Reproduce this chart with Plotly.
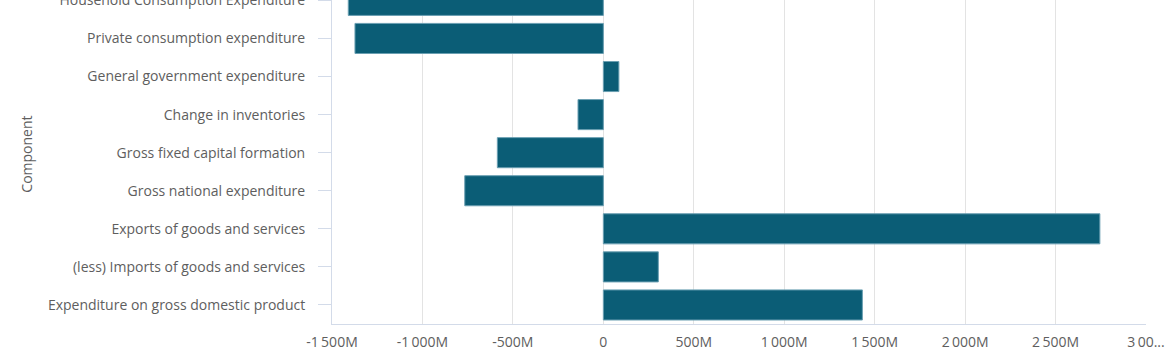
import plotly.graph_objects as go

# Expenditure components (millions), listed top to bottom
components = [
    "Household Consumption Expenditure",
    "Private consumption expenditure",
    "General government expenditure",
    "Change in inventories",
    "Gross fixed capital formation",
    "Gross national expenditure",
    "Exports of goods and services",
    "(less) Imports of goods and services",
    "Expenditure on gross domestic product",
]
values_m = [-1410, -1373, 86, -140, -586, -766, 2745, 304, 1432]

x_tickvals = [-1500, -1000, -500, 0, 500, 1000, 1500, 2000, 2500, 3000]
x_ticktext = ["-1\u2009500M", "-1\u2009000M", "-500M", "0", "500M",
              "1\u2009000M", "1\u2009500M", "2\u2009000M", "2\u2009500M", "3\u200900..."]

BAR = "#0b5d76"
TEXT = "#5e5e5e"
AXIS = "#d3dbe9"
GRID = "#e3e3e3"
FONT = "Open Sans, Lato, sans-serif"

fig = go.Figure(
    go.Bar(
        x=values_m,
        y=components,
        orientation="h",
        marker=dict(color=BAR, line=dict(color="#6a9fb2", width=1)),
        hoverinfo="x+y",
    )
)

fig.update_layout(
    width=1170,
    height=350,
    margin=dict(l=332, r=24, t=0, b=26),
    paper_bgcolor="white",
    plot_bgcolor="white",
    bargap=0.21,
    showlegend=False,
    font=dict(family=FONT, size=14, color=TEXT),
)

fig.update_xaxes(
    range=[-1500, 3000],
    tickvals=x_tickvals,
    ticktext=x_ticktext,
    showgrid=True,
    gridcolor=GRID,
    gridwidth=1,
    zeroline=False,
    showline=True,
    linecolor=AXIS,
    linewidth=1,
    ticks="",
    ticklabelstandoff=5,
    tickfont=dict(family=FONT, size=14, color=TEXT),
    automargin=False,
)

fig.update_yaxes(
    type="category",
    categoryorder="array",
    categoryarray=components,
    range=[8.5, -0.01],
    showgrid=False,
    zeroline=False,
    showline=True,
    linecolor=AXIS,
    linewidth=1,
    ticks="outside",
    ticklen=13,
    tickcolor=AXIS,
    ticklabelstandoff=10,
    tickfont=dict(family=FONT, size=14, color=TEXT),
    automargin=False,
)

# Axis title placed beside the category labels
fig.add_annotation(
    text="Component",
    textangle=-90,
    xref="paper",
    yref="paper",
    x=-0.375,
    y=0.525,
    xanchor="center",
    yanchor="middle",
    showarrow=False,
    font=dict(family=FONT, size=14, color=TEXT),
)

fig.write_html("out.html")
